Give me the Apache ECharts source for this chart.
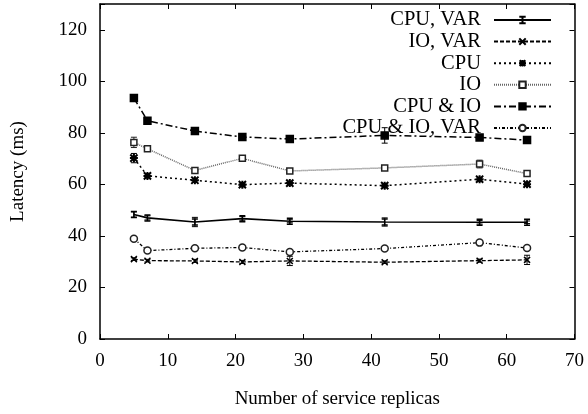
<!DOCTYPE html>
<html>
<head>
<meta charset="utf-8">
<script src="https://cdn.jsdelivr.net/npm/echarts@6/dist/echarts.min.js"></script>
<style>
html,body{margin:0;padding:0;background:#fff;}
#c{width:588px;height:414px;}
</style>
</head>
<body>
<div id="c"></div>
<script>
// ---- data ----
const replicas = [5, 7, 14, 21, 28, 42, 56, 63];
const seriesNames = ['CPU, VAR', 'IO, VAR', 'CPU', 'IO', 'CPU & IO', 'CPU & IO, VAR'];
const cpuVar   = [48.3, 47.0, 45.4, 46.7, 45.7, 45.4, 45.3, 45.3];
const ioVar    = [31.0, 30.4, 30.3, 29.9, 30.3, 29.8, 30.4, 30.7];
const cpu      = [70.2, 63.3, 61.6, 59.9, 60.5, 59.5, 62.0, 60.1];
const io       = [76.3, 73.8, 65.4, 70.1, 65.2, 66.4, 67.9, 64.2];
const cpuIo    = [93.5, 84.7, 80.7, 78.4, 77.6, 79.0, 78.2, 77.2];
const cpuIoVar = [38.9, 34.3, 35.2, 35.5, 33.8, 35.1, 37.4, 35.3];
// error (half-range) per point
const cpuVarErr   = [1.0, 0.8, 1.8, 0.8, 0.6, 1.6, 0.7, 0.5];
const ioVarErr    = [0.5, 0.5, 0.6, 0.6, 1.8, 0.5, 0.6, 1.8];
const cpuErr      = [1.8, 0.8, 0.8, 0.5, 0.5, 0.5, 0.7, 0.6];
const ioErr       = [2.0, 0.6, 0.5, 0.7, 0.6, 0.5, 1.5, 0.6];
const cpuIoErr    = [0.8, 0.5, 0.6, 0.5, 0.5, 3.0, 0.5, 0.8];
const cpuIoVarErr = [0.5, 0.5, 0.5, 0.5, 0.5, 0.5, 0.8, 0.5];
const yTicks = [0, 20, 40, 60, 80, 100, 120];
const xTicks = [0, 10, 20, 30, 40, 50, 60, 70];

const FONT = 'Liberation Serif';
const values = [cpuVar, ioVar, cpu, io, cpuIo, cpuIoVar];
const errs = [cpuVarErr, ioVarErr, cpuErr, ioErr, cpuIoErr, cpuIoVarErr];

const styles = [
  {color:'#000', type:'solid', width:1.6, symbol:'path://M0,0L10,0M5,0L5,10M0,10L10,10', size:[6,6], fill:'#000', bw:1.5},
  {color:'#000', type:[4,2], width:1.3, symbol:'path://M0,0L10,10M10,0L0,10', size:6, fill:'#000', bw:1.5},
  {color:'#000', type:[2,3], width:1.5, symbol:'path://M0,5L10,5M5,0L5,10M0.5,0.5L9.5,9.5M9.5,0.5L0.5,9.5', size:8, fill:'#000', bw:2},
  {color:'#666', type:[1,1], width:1.5, symbol:'rect', size:6, fill:'#fff', border:'#222', bw:1.5},
  {color:'#000', type:[7,3,2,3], width:1.5, symbol:'rect', size:7, fill:'#000', bw:1.5},
  {color:'#000', type:[3,2,1,2], width:1.3, symbol:'circle', size:7, fill:'#fff', border:'#222', bw:1.5}
];

const series = [];
seriesNames.forEach((name, i) => {
  const s = styles[i];
  series.push({
    name: name,
    type: 'line',
    data: replicas.map((x, j) => [x, values[i][j]]),
    symbol: s.symbol,
    symbolSize: s.size,
    showAllSymbol: true,
    lineStyle: {color: s.color, type: s.type, width: s.width},
    itemStyle: {color: s.fill, borderColor: s.border || s.color, borderWidth: s.bw},
    z: 3,
    animation: false
  });
  series.push({
    name: 'err-' + name,
    type: 'custom',
    data: replicas.map((x, j) => [x, values[i][j] - errs[i][j], values[i][j] + errs[i][j]]),
    silent: true,
    z: 2,
    animation: false,
    renderItem: (params, api) => {
      const x = api.value(0), lo = api.value(1), hi = api.value(2);
      const p1 = api.coord([x, hi]), p2 = api.coord([x, lo]);
      const w = 3;
      const st = {stroke: s.border || s.color, lineWidth: 1};
      return {type: 'group', children: [
        {type: 'line', shape: {x1: p1[0], y1: p1[1], x2: p2[0], y2: p2[1]}, style: st},
        {type: 'line', shape: {x1: p1[0]-w, y1: p1[1], x2: p1[0]+w, y2: p1[1]}, style: st},
        {type: 'line', shape: {x1: p2[0]-w, y1: p2[1], x2: p2[0]+w, y2: p2[1]}, style: st}
      ]};
    }
  });
});

const legends = seriesNames.map((name, i) => ({
  id: 'lg' + i,
  data: [name],
  right: 36,
  top: 9 + 21.6 * i,
  align: 'right',
  orient: 'vertical',
  padding: 0,
  itemWidth: 57,
  itemHeight: 8,
  selectedMode: false,
  textStyle: {fontFamily: FONT, fontSize: 20.5, color: '#000', lineHeight: 22, padding: [0, 8, 0, 0]}
}));

const axisCommonX = {
  type: 'value', min: 0, max: 70, interval: 10,
  axisLine: {show: true, onZero: false, lineStyle: {color: '#000', width: 1.5}},
  axisTick: {show: true, inside: true, length: 5, lineStyle: {color: '#000', width: 1}},
  splitLine: {show: false}
};
const axisCommonY = {
  type: 'value', min: 0, max: 130, interval: 20,
  axisLine: {show: true, onZero: false, lineStyle: {color: '#000', width: 1.5}},
  axisTick: {show: true, inside: true, length: 5, lineStyle: {color: '#000', width: 1}},
  splitLine: {show: false}
};

const option = {
  backgroundColor: '#fff',
  animation: false,
  textStyle: {fontFamily: FONT},
  grid: {left: 100, right: 13.5, top: 4, bottom: 64, containLabel: false},
  legend: legends,
  xAxis: [
    Object.assign({}, axisCommonX, {
      position: 'bottom',
      name: 'Number of service replicas',
      nameLocation: 'middle',
      nameGap: 51,
      nameTextStyle: {fontFamily: FONT, fontSize: 19, color: '#000'},
      axisLabel: {fontFamily: FONT, fontSize: 19, color: '#000', margin: 13,
        formatter: v => xTicks.indexOf(v) >= 0 ? String(v) : ''}
    }),
    Object.assign({}, axisCommonX, {position: 'top', axisLabel: {show: false}})
  ],
  yAxis: [
    Object.assign({}, axisCommonY, {
      position: 'left',
      name: 'Latency (ms)',
      nameLocation: 'middle',
      nameGap: 72,
      nameTextStyle: {fontFamily: FONT, fontSize: 19, color: '#000'},
      axisLabel: {fontFamily: FONT, fontSize: 19, color: '#000', margin: 13,
        formatter: v => yTicks.indexOf(v) >= 0 ? String(v) : ''}
    }),
    Object.assign({}, axisCommonY, {position: 'right', axisLabel: {show: false}})
  ],
  series: series
};

const chart = echarts.init(document.getElementById('c'), null, {renderer: 'canvas'});
chart.setOption(option);
</script>
</body>
</html>
